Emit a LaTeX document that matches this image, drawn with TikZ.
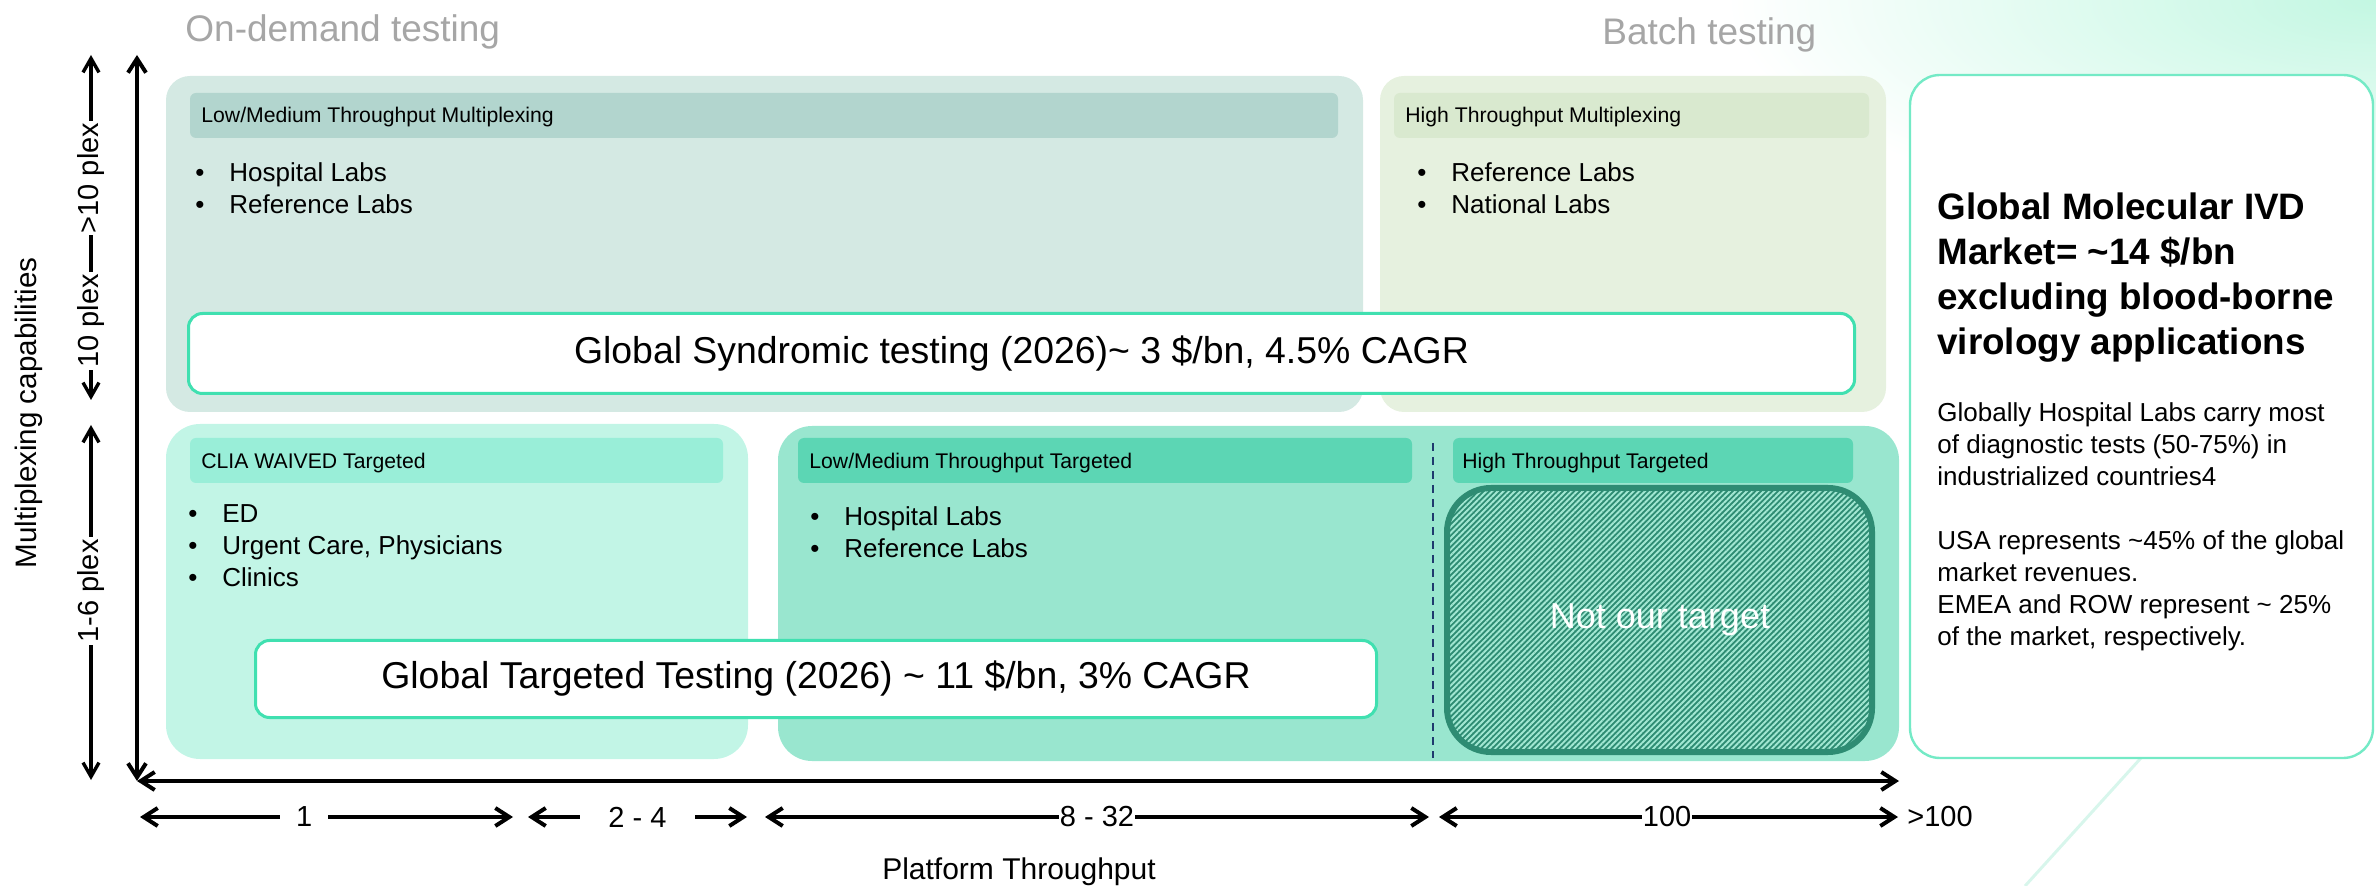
\documentclass[tikz,border=0pt]{standalone}
\usepackage{fontspec}
\setmainfont{Liberation Sans}
\usetikzlibrary{arrows.meta,patterns.meta}
\definecolor{cA}{HTML}{D4E9E3}
\definecolor{cAh}{HTML}{B2D5CE}
\definecolor{cB}{HTML}{E6F1DF}
\definecolor{cBh}{HTML}{D9E9CF}
\definecolor{cC}{HTML}{C2F5E6}
\definecolor{cCh}{HTML}{99EED8}
\definecolor{cD}{HTML}{99E6CF}
\definecolor{cDh}{HTML}{5CD6B4}
\definecolor{mintline}{HTML}{40E0B0}
\definecolor{panelline}{HTML}{74EAC6}
\definecolor{hatchdark}{HTML}{2E8C73}
\definecolor{hatchlight}{HTML}{A2E8D3}
\definecolor{navyline}{HTML}{1F3A6E}
\definecolor{graytxt}{HTML}{A6A6A6}
\definecolor{glow}{HTML}{C3F7E2}
\definecolor{faintline}{HTML}{D8F6EC}
\newcommand{\setfs}[2]{\fontsize{#1}{#2}\selectfont}
\newcommand{\bl}[1]{\makebox[17pt][l]{\textbullet}#1}
\begin{document}
\begin{tikzpicture}[x=0.5pt,y=-0.5pt,
  every node/.style={inner sep=0pt, text=black},
  region/.style={rounded corners=12pt},
  hdrbar/.style={rounded corners=3pt},
  hdrtext/.style={anchor=base west, font=\setfs{10.6}{12}},
  listtext/.style={anchor=base west},
  marketbox/.style={draw=mintline, line width=1.5pt, fill=white, rounded corners=7pt},
  markettext/.style={font=\setfs{18.7}{22}},
  axarrow/.style={line width=2pt, {Straight Barb[length=7pt,width=9pt]}-{Straight Barb[length=7pt,width=9pt]}},
  plexarrow/.style={line width=1.7pt, {Straight Barb[length=7pt,width=8pt]}-{Straight Barb[length=7pt,width=8pt]}},
  axlabel/.style={font=\setfs{14.5}{16}, fill=white},
  sidelabel/.style={font=\setfs{14.5}{16}, rotate=90, fill=white, inner xsep=1pt, inner ysep=2pt},
  section/.style={anchor=base west, font=\setfs{18.5}{22}, text=graytxt}
]
\useasboundingbox (0,0) rectangle (2376,886);
% background glow
\begin{scope}
  \clip (1500,0) rectangle (2376,886);
  \shade[inner color=glow, outer color=white] (2376,0) ellipse [x radius=650, y radius=230];
\end{scope}
\draw[faintline, line width=1.5pt] (2150,748) -- (2025,886);

% section titles
\node[section] (ondemand) at (185,42) {On-demand testing};
\node[section] (batch) at (1602,45) {Batch testing};

% top-left region
\fill[cA, region] (166,76) rectangle (1363,412);
\fill[cAh, hdrbar] (190,93) rectangle (1338,138);
\node[hdrtext] (h1) at (201,123) {Low/Medium Throughput Multiplexing};
\node[listtext] (l1) at (195,182) {\parbox[t]{300pt}{\setfs{13}{16}\bl{Hospital Labs}\\\bl{Reference Labs}}};

% top-right region
\fill[cB, region] (1380,76) rectangle (1886,412);
\fill[cBh, hdrbar] (1394,93) rectangle (1869,138);
\node[hdrtext] (h2) at (1405,123) {High Throughput Multiplexing};
\node[listtext] (l2) at (1417,182) {\parbox[t]{200pt}{\setfs{13}{16}\bl{Reference Labs}\\\bl{National Labs}}};

% syndromic
\node[marketbox, minimum width=833pt, minimum height=40pt, anchor=north west] (synd) at (187,312) {};
\node[markettext] (syndt) at (synd.center) {Global Syndromic testing (2026)\textasciitilde{} 3 \$/bn, 4.5\% CAGR};

% bottom-left region CLIA
\fill[cC, rounded corners=17pt] (166,424) rectangle (748,759);
\fill[cCh, hdrbar] (190,438) rectangle (723,483);
\node[hdrtext] (h3) at (201,469) {CLIA WAIVED Targeted};
\node[listtext] (l3) at (188,523) {\parbox[t]{250pt}{\setfs{13}{16}\bl{ED}\\\bl{Urgent Care, Physicians}\\\bl{Clinics}}};

% bottom-right region
\fill[cD, rounded corners=17pt] (778,426) rectangle (1899,761);
\fill[cDh, hdrbar] (798,438) rectangle (1412,483);
\fill[cDh, hdrbar] (1453,438) rectangle (1853,483);
\node[hdrtext] (h4) at (809,469) {Low/Medium Throughput Targeted};
\node[hdrtext] (h5) at (1462,469) {High Throughput Targeted};
\node[listtext] (l4) at (810,526) {\parbox[t]{250pt}{\setfs{13}{16}\bl{Hospital Labs}\\\bl{Reference Labs}}};
\coordinate (dtop) at (1433,443);
\coordinate (dbot) at (1433,758);
\draw[navyline, line width=1pt, dash pattern=on 4pt off 3pt] (dtop) -- (dbot);

% not our target
\fill[hatchdark, rounded corners=22pt] (1447,488) rectangle (1872,752);
\fill[pattern={Lines[angle=45,distance=2pt,line width=0.95pt]}, pattern color=hatchlight, rounded corners=22pt] (1447,488) rectangle (1872,752);
\draw[hatchdark, line width=3pt, rounded corners=22pt] (1447,488) rectangle (1872,752);
\node[font=\setfs{18}{22}, text=white] (notour) at (1660,620) {Not our target};

% targeted market
\node[marketbox, minimum width=560.5pt, minimum height=38.5pt, anchor=north west] (targ) at (254,639) {};
\node[markettext] (targt) at (targ.center) {Global Targeted Testing (2026) \textasciitilde{} 11 \$/bn, 3\% CAGR};

% right panel
\fill[white, rounded corners=15pt] (1910,75) rectangle (2373,758);
\draw[panelline, line width=1.2pt, rounded corners=15pt] (1910,75) rectangle (2373,758);
\node[anchor=base west] (ttl) at (1937,220) {\parbox[t]{225pt}{\bfseries\setfs{18.4}{22.5}Global Molecular IVD\\Market= \textasciitilde14 \$/bn\\excluding blood-borne\\virology applications}};
\node[anchor=base west] (body) at (1937,422) {\parbox[t]{225pt}{\setfs{13}{16}Globally Hospital Labs carry most\\of diagnostic tests (50-75\%) in\\industrialized countries4\\[16pt]USA represents \textasciitilde45\% of the global\\market revenues.\\EMEA and ROW represent \textasciitilde{} 25\%\\of the market, respectively.}};

% axes
\coordinate (orig) at (137,781);
\coordinate (ytop) at (137,55);
\coordinate (xend) at (1899,781);
\draw[axarrow] (ytop) -- (orig);
\draw[axarrow] (orig) -- (xend);

% plex arrows
\coordinate (p1t) at (91,55);
\coordinate (p1b) at (91,400);
\coordinate (p2t) at (91,425);
\coordinate (p2b) at (91,780);
\draw[plexarrow] (p1b) -- (p1t);
\draw[plexarrow] (p2b) -- (p2t);
\node[sidelabel] (lt10) at (91,321) {10 plex};
\node[sidelabel] (gt10) at (91,178) {>10 plex};
\node[sidelabel] (p16) at (91,591) {1-6 plex};
\node[font=\setfs{14.8}{16}, rotate=90] (ylab) at (29,413) {Multiplexing capabilities};

% throughput arrows
\coordinate (a1l) at (140,817); \coordinate (a1r) at (513,817);
\coordinate (a2l) at (528,817); \coordinate (a2r) at (747,817);
\coordinate (a3l) at (765,817); \coordinate (a3r) at (1429,817);
\coordinate (a4l) at (1439,817); \coordinate (a4r) at (1898,817);
\draw[axarrow] (a1l) -- node[axlabel, pos=0.44, inner xsep=8pt] (t1) {1} (a1r);
\draw[axarrow] (a2l) -- node[axlabel, pos=0.5, inner xsep=14pt] (t2) {2 - 4} (a2r);
\draw[axarrow] (a3l) -- node[axlabel, pos=0.5, inner xsep=0.5pt] (t3) {8 - 32} (a3r);
\draw[axarrow] (a4l) -- node[axlabel, pos=0.497, inner xsep=0.5pt] (t4) {100} (a4r);
\node[anchor=west, font=\setfs{14.5}{16}] (t5) at (1907,817) {>100};
\node[anchor=base, font=\setfs{15}{16}] (xlab) at (1019,879) {Platform Throughput};
\end{tikzpicture}
\end{document}
